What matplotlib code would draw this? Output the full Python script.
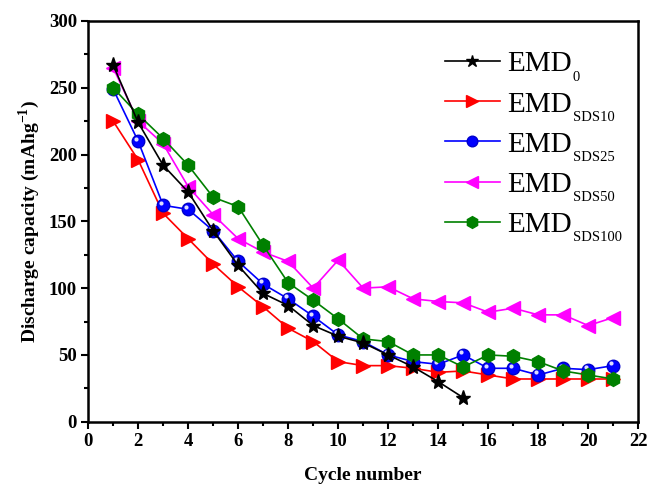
import numpy as np
import matplotlib
matplotlib.use('Agg')
import matplotlib.pyplot as plt
from matplotlib.ticker import MultipleLocator

plt.rcParams['font.family'] = 'Liberation Serif'
plt.rcParams['mathtext.fontset'] = 'custom'
plt.rcParams['mathtext.rm'] = 'Liberation Serif'
plt.rcParams['mathtext.bf'] = 'Liberation Serif:bold'

# данные
cycles = np.arange(1, 22)
emd0 = [267, 224, 192, 172, 143, 117, 96, 87, 72, 64, 59, 50, 41, 30, 18]
sds10 = [225, 196, 156, 137, 118, 101, 86, 70, 60, 45, 42, 42, 40, 37, 38,
         35, 32, 32, 32, 32, 32]
sds25 = [249, 210, 162, 159, 143, 120, 103, 92, 79, 65, 60, 50, 45, 43, 50,
         40, 40, 35, 40, 39, 42]
sds50 = [265, 225, 208, 176, 155, 137, 127, 120, 100, 121, 100, 101, 92, 90, 89,
         82, 85, 80, 80, 72, 78]
sds100 = [250, 230, 212, 192, 168, 161, 132, 104, 91, 77, 62, 60, 50, 50, 41,
          50, 49, 45, 38, 35, 32]

subs = ['0', 'SDS10', 'SDS25', 'SDS50', 'SDS100']

fig = plt.figure(figsize=(6.48, 4.87), dpi=100)
ax = fig.add_axes([0.136, 0.134, 0.849, 0.823])

ax.plot(cycles[:len(emd0)], emd0, '-', color='black', marker='*', ms=11,
        lw=1.2, label='EMD', zorder=6)
ax.plot(cycles, sds10, '-', color='red', marker='>', ms=10,
        lw=1.2, label='EMD', zorder=3)
ax.plot(cycles, sds25, '-', color='blue', marker='o', ms=9, mec='#0000cc',
        lw=1.2, label='EMD', zorder=4)
# блик на синих шариках
ax.plot(np.array(cycles) - 0.08, np.array(sds25) + 2, 'o', color='#dcdcff',
        ms=3, mew=0, zorder=4.5)
ax.plot(cycles, sds50, '-', color='magenta', marker='<', ms=10,
        lw=1.2, label='EMD', zorder=2)
ax.plot(cycles, sds100, '-', color='green', marker='h', ms=10, mec='green',
        lw=1.2, label='EMD', zorder=5)

ax.set_xlim(0, 22)
ax.set_ylim(0, 300)
ax.xaxis.set_major_locator(MultipleLocator(2))
ax.xaxis.set_minor_locator(MultipleLocator(1))
ax.yaxis.set_major_locator(MultipleLocator(50))
ax.yaxis.set_minor_locator(MultipleLocator(25))
ax.tick_params(which='major', direction='out', length=5, width=1.5,
               labelsize=13.5, pad=3, top=False, right=False)
ax.tick_params(which='minor', direction='out', length=3, width=1.5,
               top=False, right=False)
for lab in ax.get_xticklabels() + ax.get_yticklabels():
    lab.set_fontweight('bold')
for sp in ax.spines.values():
    sp.set_linewidth(1.8)

ax.set_xlabel('Cycle number', fontsize=14, fontweight='bold', labelpad=12)
ax.set_ylabel(r'Discharge capacity (mAhg$^{\mathbf{-1}}$)', fontsize=14,
              fontweight='bold', labelpad=5)

leg = ax.legend(loc='upper left', frameon=False, fontsize=21, handlelength=1.9,
                handletextpad=0.25, labelspacing=0.47, borderpad=0,
                borderaxespad=0, markerscale=0.85,
                bbox_to_anchor=(0.648, 0.925))

# подстрочные индексы к подписям легенды
for t, s in zip(leg.get_texts(), subs):
    ax.annotate(s, xy=(1, 0), xycoords=t, xytext=(0.5, -2.5),
                textcoords='offset points', fontsize=10.5, va='baseline',
                ha='left', zorder=10, annotation_clip=False)

fig.canvas.draw()
fig.savefig('out.png', dpi=100)
